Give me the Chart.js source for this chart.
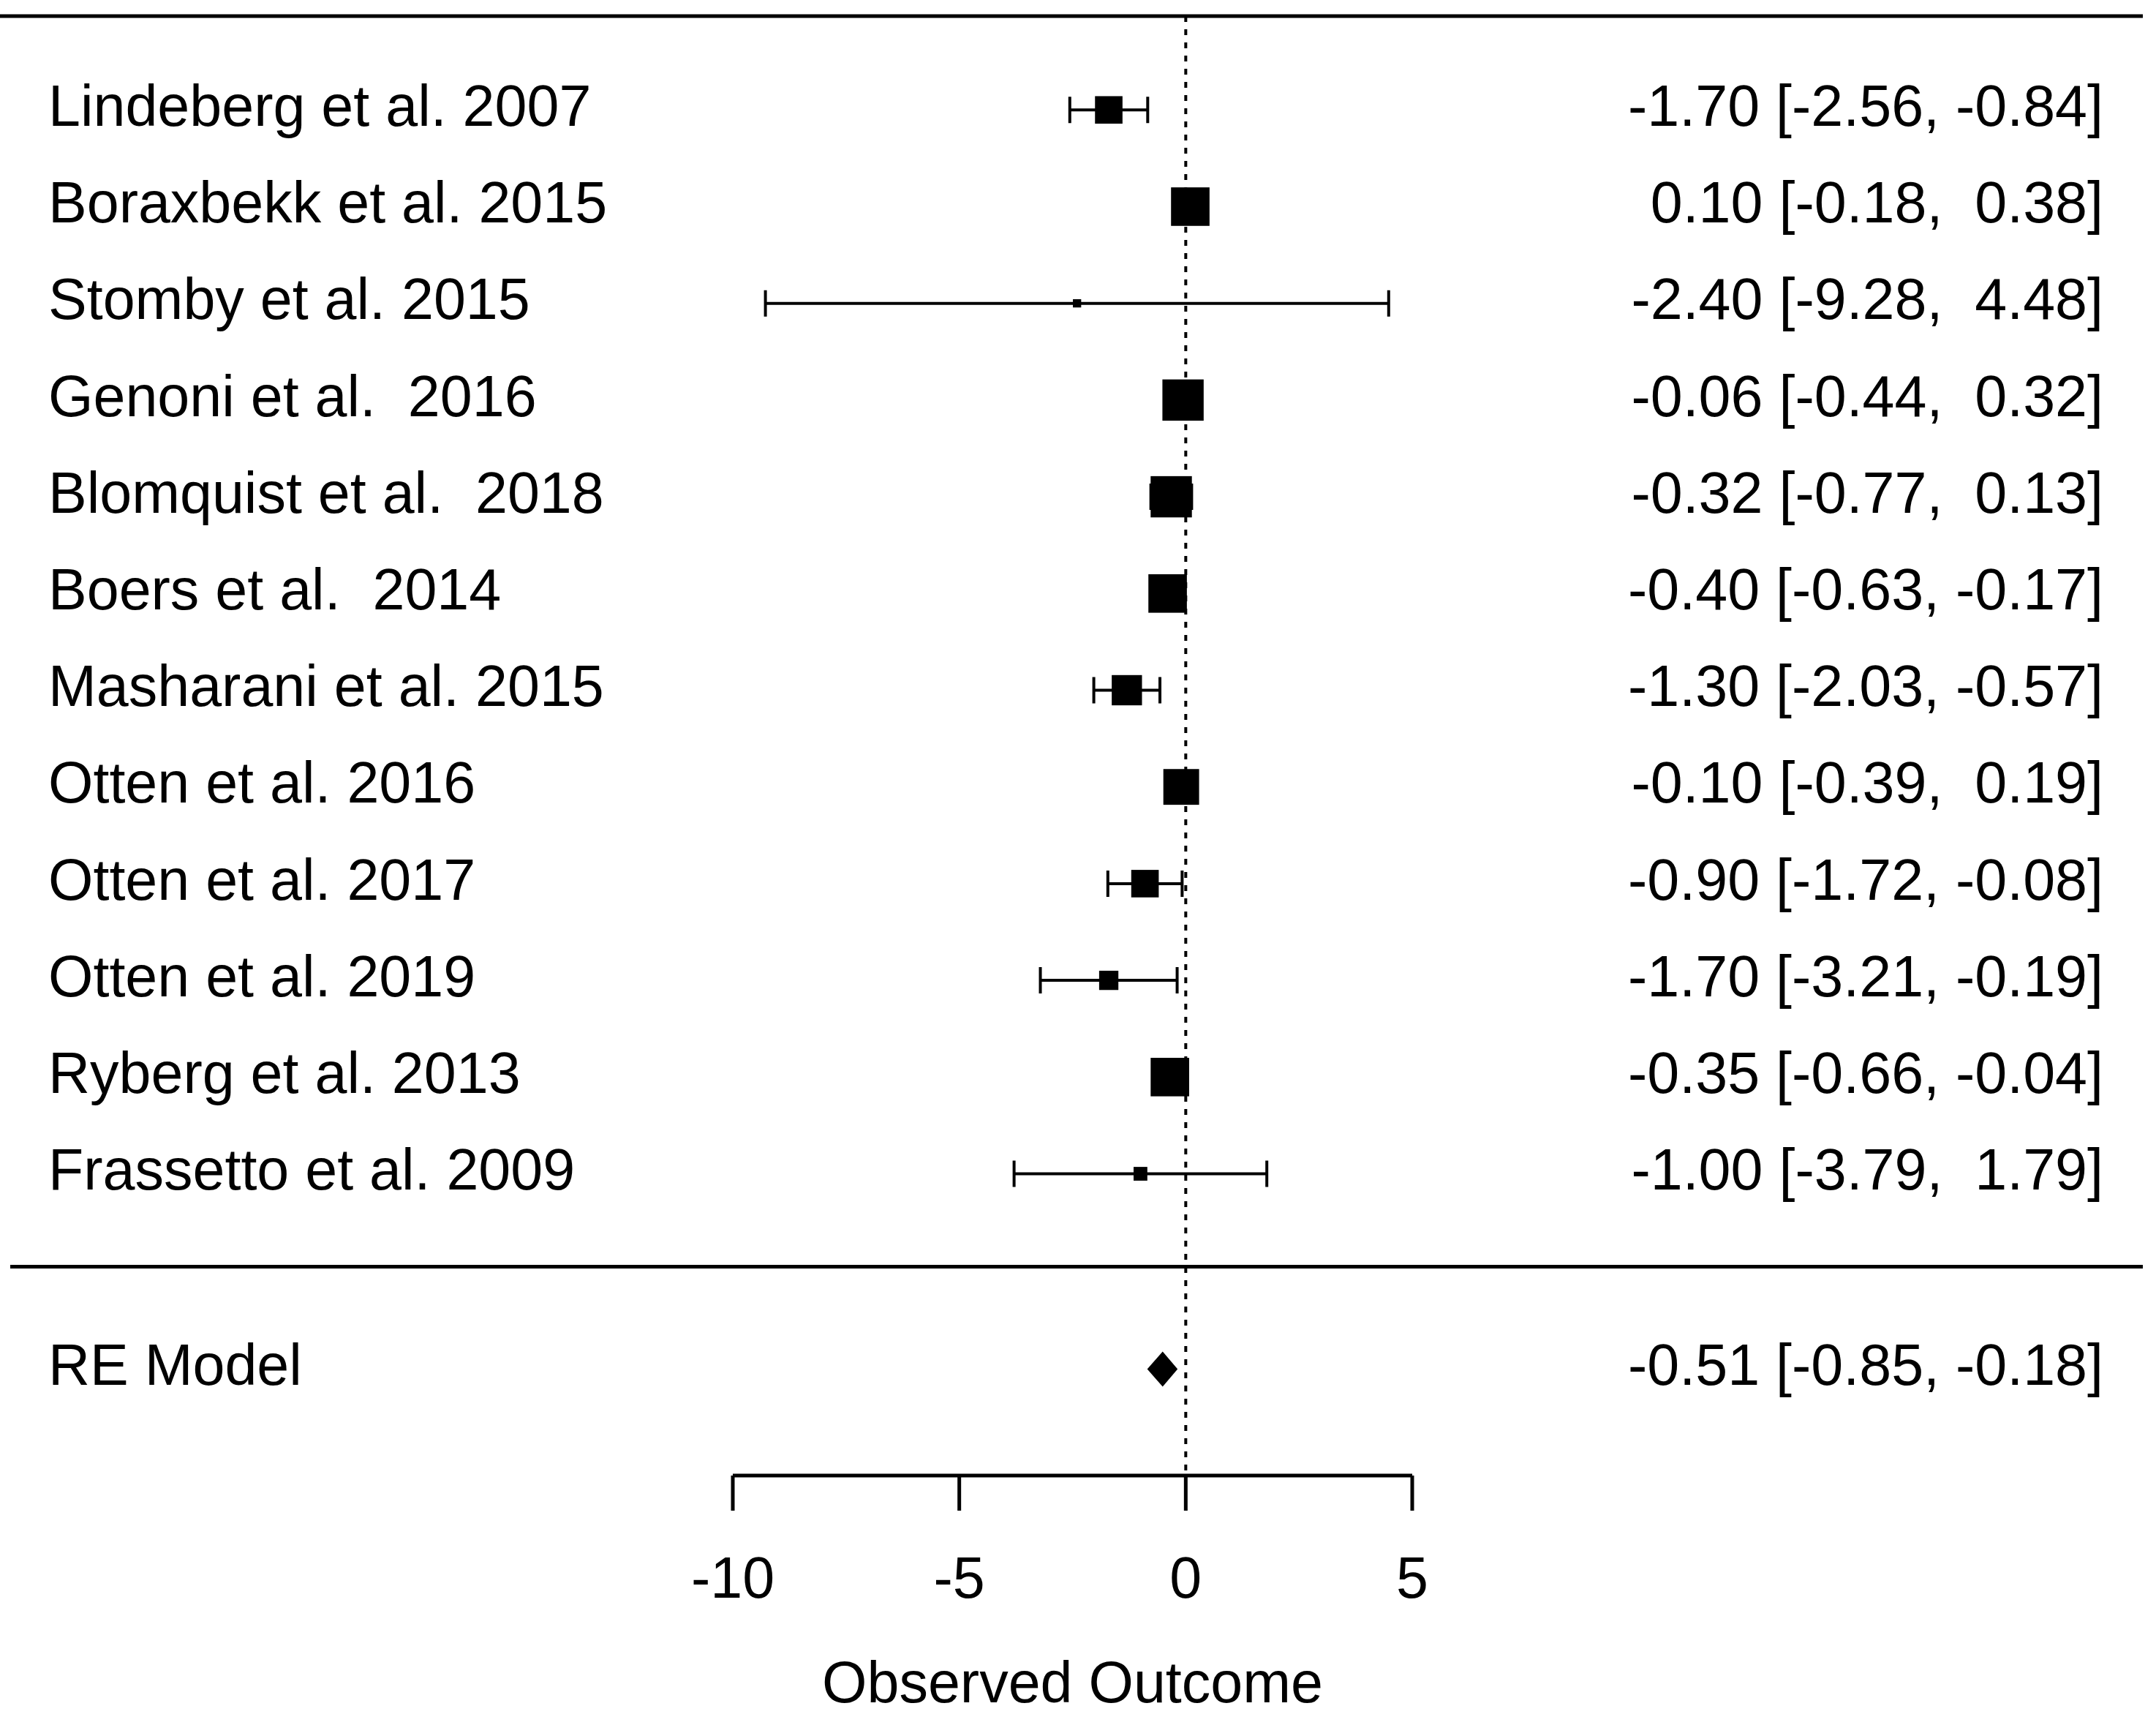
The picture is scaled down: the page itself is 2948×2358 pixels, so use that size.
<!DOCTYPE html>
<html><head><meta charset="utf-8">
<script src="https://cdn.jsdelivr.net/npm/chart.js@4"></script>
<style>html,body{margin:0;padding:0;background:#fff}#w{width:2948px;height:2358px}</style>
</head><body><div id="w"><canvas id="c"></canvas></div>
<script>
const studies=["Lindeberg et al. 2007","Boraxbekk et al. 2015","Stomby et al. 2015","Genoni et al.  2016","Blomquist et al.  2018","Boers et al.  2014","Masharani et al. 2015","Otten et al. 2016","Otten et al. 2017","Otten et al. 2019","Ryberg et al. 2013","Frassetto et al. 2009"];
const estimates=[-1.70,0.10,-2.40,-0.06,-0.32,-0.40,-1.30,-0.10,-0.90,-1.70,-0.35,-1.00];
const lower=[-2.56,-0.18,-9.28,-0.44,-0.77,-0.63,-2.03,-0.39,-1.72,-3.21,-0.66,-3.79];
const upper=[-0.84,0.38,4.48,0.32,0.13,-0.17,-0.57,0.19,-0.08,-0.19,-0.04,1.79];
const weights=[10,14,3,15,15,14,11,13,10,7,14,5];
const reModel={label:"RE Model",est:-0.51,lo:-0.85,hi:-0.18};
const xTicks=[-10,-5,0,5];
const xTitle="Observed Outcome";
const f=v=>v.toFixed(2);
const ciText=(e,l,h)=>f(e)+" ["+f(l)+", "+(h>=0?" ":"")+f(h)+"]";
const rowY=i=>14.12-i;
const FONT="79px 'Liberation Sans', Arial, sans-serif";
const plugin={id:'forest',afterDraw(ch){
 const c=ch.ctx,x=ch.scales.x,y=ch.scales.y;
 c.save();c.strokeStyle='#000';c.fillStyle='#000';c.lineWidth=5;
 const W=ch.width;
 c.beginPath();c.moveTo(0,y.getPixelForValue(15.09));c.lineTo(W-18,y.getPixelForValue(15.09));c.stroke();
 c.beginPath();c.moveTo(14,y.getPixelForValue(2.16));c.lineTo(W-18,y.getPixelForValue(2.16));c.stroke();
 c.lineWidth=4;c.setLineDash([8,10]);c.beginPath();c.moveTo(x.getPixelForValue(0),y.getPixelForValue(15.09));c.lineTo(x.getPixelForValue(0),y.getPixelForValue(0));c.stroke();c.setLineDash([]);
 c.font=FONT;c.textBaseline='middle';
 studies.forEach((s,i)=>{
  const py=y.getPixelForValue(rowY(i)),x0=x.getPixelForValue(lower[i]),x1=x.getPixelForValue(upper[i]),xe=x.getPixelForValue(estimates[i]);
  c.beginPath();c.moveTo(x0,py);c.lineTo(x1,py);c.moveTo(x0,py-18);c.lineTo(x0,py+18);c.moveTo(x1,py-18);c.lineTo(x1,py+18);c.stroke();
  const h=weights[i]*1.88;c.fillRect(xe-h,py-h,2*h,2*h);
  c.textAlign='left';c.fillText(s,66,py);
  c.textAlign='right';c.fillText(ciText(estimates[i],lower[i],upper[i]),2876,py);
 });
 const ry=y.getPixelForValue(1.10);
 c.beginPath();c.moveTo(x.getPixelForValue(reModel.lo),ry);c.lineTo(x.getPixelForValue(reModel.est),ry-24);c.lineTo(x.getPixelForValue(reModel.hi),ry);c.lineTo(x.getPixelForValue(reModel.est),ry+24);c.closePath();c.fill();
 c.textAlign='left';c.fillText(reModel.label,66,ry);
 c.textAlign='right';c.fillText(ciText(reModel.est,reModel.lo,reModel.hi),2876,ry);
 const ay=y.getPixelForValue(0);
 c.lineWidth=5;
 c.beginPath();c.moveTo(x.getPixelForValue(xTicks[0]),ay);c.lineTo(x.getPixelForValue(xTicks[xTicks.length-1]),ay);c.stroke();
 c.textAlign='center';
 xTicks.forEach(t=>{const px=x.getPixelForValue(t);c.beginPath();c.moveTo(px,ay);c.lineTo(px,ay+48);c.stroke();c.fillText(String(t),px,ay+145);});
 c.fillText(xTitle,x.getPixelForValue(-2.5),ay+288);
 c.restore();
}};
new Chart(document.getElementById('c'),{type:'scatter',data:{datasets:[{data:estimates.map((e,i)=>({x:e,y:rowY(i)})),pointRadius:0}]},
 options:{responsive:true,maintainAspectRatio:false,devicePixelRatio:1,animation:false,
 layout:{padding:{left:1002,right:1017,top:22,bottom:341}},
 plugins:{legend:{display:false},tooltip:{enabled:false}},
 scales:{x:{type:'linear',min:-10,max:5,display:false},y:{type:'linear',min:0,max:15.09,display:false}}},
 plugins:[plugin]});
</script></body></html>
